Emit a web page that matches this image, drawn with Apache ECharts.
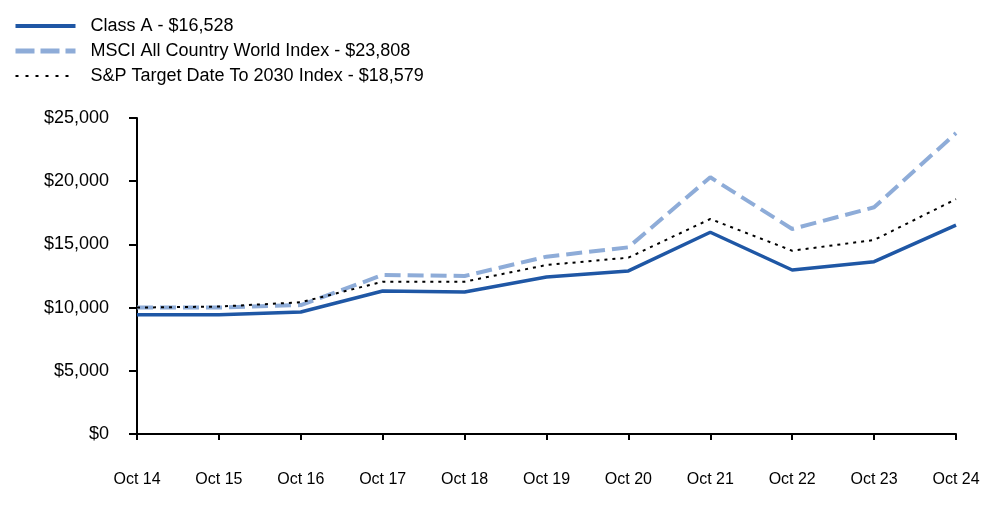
<!DOCTYPE html>
<html>
<head>
<meta charset="utf-8">
<script src="https://cdn.jsdelivr.net/npm/echarts@6/dist/echarts.min.js"></script>
<style>
  html, body { margin:0; padding:0; background:#fff; }
  #chart { width:1000px; height:523px; }
</style>
</head>
<body>
<div id="chart"></div>
<script>
var categories = ["Oct 14","Oct 15","Oct 16","Oct 17","Oct 18","Oct 19","Oct 20","Oct 21","Oct 22","Oct 23","Oct 24"];
var classA = [9425, 9430, 9650, 11310, 11230, 12420, 12900, 15960, 12975, 13630, 16528];
var msci   = [10000, 10010, 10200, 12580, 12500, 14030, 14770, 20310, 16220, 17935, 23808];
var sp2030 = [10000, 10080, 10420, 12050, 12050, 13370, 13950, 17010, 14500, 15350, 18579];
var seriesNames = ["Class A - $16,528", "MSCI All Country World Index - $23,808", "S&P Target Date To 2030 Index - $18,579"];

var font = "Liberation Sans, Arial, sans-serif";
var chart = echarts.init(document.getElementById("chart"));

function lineSeries(name, data, color, width, type){
  return {
    name: name,
    type: "line",
    data: data,
    symbol: "none",
    silent: true,
    lineStyle: { color: color, width: width, type: type },
    itemStyle: { color: color }
  };
}

chart.setOption({
  animation: false,
  backgroundColor: "#fff",
  textStyle: { fontFamily: font },
  legend: {
    orient: "vertical",
    left: 8,
    top: 12,
    itemWidth: 60,
    itemHeight: 14,
    itemGap: 7,
    itemStyle: { opacity: 0 },
    textStyle: { fontSize: 18, color: "#000", fontFamily: font, padding: [0,0,0,10] },
    data: [
      { name: seriesNames[0], lineStyle: { width: 4 } },
      { name: seriesNames[1], lineStyle: { width: 5, type: [19, 6] } },
      { name: seriesNames[2], lineStyle: { width: 2, type: [3, 7] } }
    ]
  },
  grid: { left: 137, right: 44, top: 118, bottom: 89, containLabel: false },
  xAxis: {
    type: "category",
    boundaryGap: false,
    data: categories,
    axisLine: { lineStyle: { color: "#000", width: 2 } },
    axisTick: { alignWithLabel: true, length: 6, lineStyle: { color: "#000", width: 2 } },
    axisLabel: { color: "#000", fontSize: 16, margin: 38, fontFamily: font }
  },
  yAxis: {
    type: "value",
    min: 0,
    max: 25000,
    interval: 5000,
    splitLine: { show: false },
    axisLine: { show: true, lineStyle: { color: "#000", width: 2 } },
    axisTick: { show: true, length: 8, lineStyle: { color: "#000", width: 2 } },
    axisLabel: {
      color: "#000", fontSize: 18, margin: 28, fontFamily: font,
      formatter: function(v){ return "$" + v.toLocaleString("en-US"); }
    }
  },
  series: [
    lineSeries(seriesNames[0], classA, "#1f57a5", 3.5, "solid"),
    lineSeries(seriesNames[1], msci, "#8eacd8", 4, [16, 7]),
    lineSeries(seriesNames[2], sp2030, "#000", 2, [3, 5])
  ]
});
</script>
</body>
</html>
